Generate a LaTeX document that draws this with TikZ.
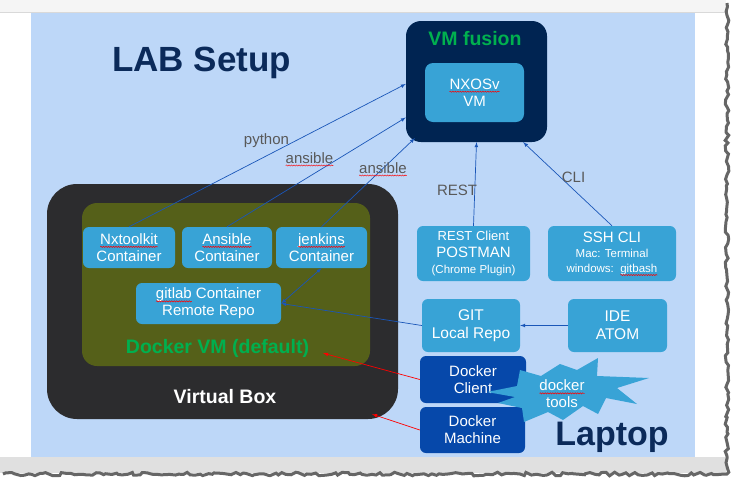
\documentclass[tikz,border=0pt]{standalone}
\usepackage{fontspec}
\setmainfont{Liberation Sans}
\usepackage{xcolor}
\usetikzlibrary{arrows,calc,decorations.pathmorphing,positioning}
\definecolor{slide}{HTML}{BDD7F8}
\definecolor{navy}{HTML}{002452}
\definecolor{headnavy}{HTML}{0B2A5A}
\definecolor{cbox}{HTML}{38A3D6}
\definecolor{dockerblue}{HTML}{0648AA}
\definecolor{vboxgray}{HTML}{2C2C2E}
\definecolor{olive}{HTML}{556019}
\definecolor{titlegreen}{HTML}{00B04F}
\definecolor{linkblue}{HTML}{1A56B8}
\definecolor{lblgray}{HTML}{595959}
\newlength\spellw
\newcommand{\spell}[1]{\settowidth{\spellw}{#1}#1\tikz[overlay,baseline=0pt]\draw[sharp corners,red,line width=0.5pt,decorate,decoration={snake,amplitude=0.6pt,segment length=2.5pt}] (-\spellw,-2.5pt) -- (0pt,-2.5pt);}
\tikzset{%
	panel/.style    = {rectangle, inner sep=0pt},
	box/.style      = {rectangle, rounded corners=6pt, fill=cbox, text=white, align=center, inner sep=0pt, font=\fontsize{15}{17}\selectfont},
	darkbox/.style  = {box, fill=dockerblue},
	heading/.style  = {text=headnavy, font=\bfseries\fontsize{35}{40}\selectfont},
	greentitle/.style = {text=titlegreen, font=\bfseries\fontsize{19.5}{22}\selectfont},
	whitetitle/.style = {text=white, font=\bfseries\fontsize{19.5}{22}\selectfont},
	lbl/.style      = {text=lblgray, font=\fontsize{15}{17}\selectfont},
	link/.style     = {draw=linkblue, line width=0.7pt, -latex},
	redlink/.style  = {draw=red, line width=0.7pt, -latex},
}
\begin{document}
\begin{tikzpicture}[x=1pt,y=-1pt]
	\useasboundingbox (0,0) rectangle (744,488);
	\pgfmathsetseed{7}
	% page
	\fill[black!4] (0,0) rectangle (726,12);
	\draw[black!15] (0,12.5) -- (726,12.5);
	\fill[slide] (31,13) rectangle (695,457);
	\fill[black!12] (0,457) rectangle (726,473);
	\draw[black!60, line width=3pt, decorate, decoration={random steps,segment length=4pt,amplitude=1.8pt}] (727,3) -- (727,474) -- (3,474);
	\node[heading, anchor=base] (labsetup) at (201.5,71) {LAB Setup};
	% VM fusion
	\node[panel, fill=navy, rounded corners=15pt, minimum width=141pt, minimum height=121pt] (fusion) at (476.5,81.5) {};
	\node[greentitle, anchor=base] (fusiontitle) at (475,45) {VM fusion};
	\node[box, rounded corners=8pt, minimum width=99pt, minimum height=59pt] (nxosv) at (474.5,92.5) {\spell{NXOSv}\\VM};
	% Virtual Box and Docker VM
	\node[panel, fill=vboxgray, rounded corners=30pt, minimum width=351pt, minimum height=235pt] (vbox) at (222.5,301.5) {};
	\node[panel, fill=olive, rounded corners=15pt, minimum width=288pt, minimum height=163pt] (dockervm) at (226,284.5) {};
	\node[box, minimum width=92pt, minimum height=41pt] (nxtk) at (129,247.5) {\spell{Nxtoolkit}\\Container};
	\node[box, minimum width=90pt, minimum height=41pt] (ansible) at (227,247.5) {\spell{Ansible}\\Container};
	\node[box, minimum width=91pt, minimum height=41pt] (jenkins) at (321.5,247.5) {\spell{jenkins}\\Container};
	\node[box, minimum width=145pt, minimum height=41pt] (gitlab) at (208.5,303.5) {\spell{gitlab} Container\\Remote Repo};
	\node[greentitle, anchor=base] (dockertitle) at (217.5,353) {Docker VM (default)};
	\node[whitetitle, anchor=base] (vboxtitle) at (225,403) {Virtual Box};
	% laptop side
	\node[box, minimum width=113pt, minimum height=55pt, font=\fontsize{15}{16.5}\selectfont] (rest) at (473.5,253.5) {{\fontsize{13}{15}\selectfont REST Client}\\POSTMAN\\{\fontsize{11.5}{13}\selectfont (Chrome Plugin)}};
	\node[box, minimum width=128pt, minimum height=55pt, font=\fontsize{15}{15}\selectfont] (ssh) at (612,253.5) {SSH CLI\\{\fontsize{11.5}{13}\selectfont Mac: Terminal}\\{\fontsize{11.5}{13}\selectfont windows:\ \ \spell{gitbash}}};
	\node[box, minimum width=98pt, minimum height=53pt, font=\fontsize{15.5}{18}\selectfont] (git) at (471,325.5) {GIT\\Local Repo};
	\node[box, minimum width=99pt, minimum height=53pt, font=\fontsize{15.5}{18}\selectfont] (ide) at (617.5,325.5) {IDE\\ATOM};
	\node[darkbox, minimum width=106pt, minimum height=47pt] (dclient) at (473,379.5) {Docker\\Client};
	\node[darkbox, minimum width=105pt, minimum height=46pt] (dmachine) at (472.5,430) {Docker\\Machine};
	\fill[cbox] (487,392) -- (517,386) -- (520,370) -- (541,376) -- (560,364) -- (577,370) -- (598,358) -- (597,376) -- (649,378) -- (617,388) -- (637,404) -- (606,398) -- (598,414) -- (583,406) -- (563,420) -- (548,412) -- (524,422) -- (522,408) -- (498,403) -- (515,397) -- cycle;
	\node[box, fill=none] (tools) at (562,394) {\spell{docker}\\tools};
	\node[heading, font=\bfseries\fontsize{34}{40}\selectfont, anchor=base] (laptop) at (612,445) {Laptop};
	% connectors
	\draw[link] (nxtk.north) -- (fusion.182);
	\draw[link] (ansible.north) -- (fusion.207);
	\draw[link] (jenkins.north) -- ($(fusion.south west)+(9,-4)$);
	\draw[link] (rest.north) -- (fusion.south);
	\draw[link] (ssh.north) -- ($(fusion.south east)+(-24,0)$);
	\draw[link, latex-latex] (jenkins.south) -- (gitlab.east);
	\draw[link] (git.west) -- (gitlab.east);
	\draw[link] (ide.west) -- (git.east);
	\draw[redlink] (dclient.west) -- ($(dockervm.south east)+(-47,-13)$);
	\draw[redlink] (dmachine.west) -- ($(vbox.south east)+(-26,-5)$);
	\node[lbl, anchor=base] (pythonlbl) at (266.5,144) {python};
	\node[lbl, anchor=base] (ansiblelbl) at (309.5,163) {\spell{ansible}};
	\node[lbl, anchor=base] (jenkinslbl) at (383,173) {\spell{ansible}};
	\node[lbl, anchor=base] (restlbl) at (457,195) {REST};
	\node[lbl, anchor=base] (clilbl) at (573.5,182) {CLI};
\end{tikzpicture}
\end{document}
